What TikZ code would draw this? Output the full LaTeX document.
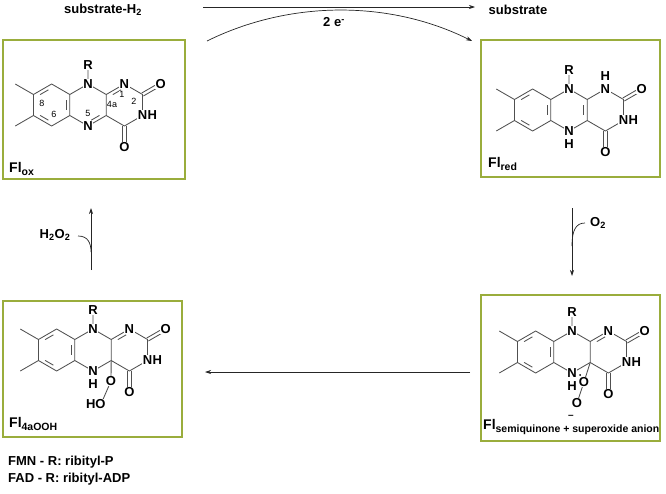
\documentclass[tikz,border=0pt]{standalone}
\usepackage{fontspec}
\setmainfont{Liberation Sans}
\usetikzlibrary{calc,arrows.meta}
\definecolor{boxc}{HTML}{9AAD3C}
\definecolor{bondc}{HTML}{505050}
\newcommand{\sbs}[1]{\raisebox{-0.25em}{\fontsize{10.5}{10.5}\selectfont #1}}
\tikzset{
  box/.style={draw=boxc,line width=1.1pt},
  bd/.style={draw=bondc,line width=0.85pt},
  atm/.style={fill=white,inner sep=0.6pt,font=\bfseries\fontsize{13}{13}\selectfont,text=black},
  num/.style={inner sep=0.3pt,font=\fontsize{9}{9}\selectfont},
  lab/.style={inner sep=0pt,font=\bfseries\fontsize{13}{13}\selectfont},
  flab/.style={inner sep=0pt,font=\bfseries\fontsize{14}{14}\selectfont},
  arr/.style={draw=black!85,line width=0.7pt,-{Stealth[length=6pt,width=4pt]}},
}
\newcommand{\dbin}[3]{\draw[bd] ($($(#1)!.22!(#2)$)!3.6pt!(#3)$) -- ($($(#1)!.78!(#2)$)!3.6pt!(#3)$);}
\newcommand{\flskel}[1]{%
  \coordinate (#1N10) at (0,-21); \coordinate (#1C9a) at (-18.19,-10.5);
  \coordinate (#1C5a) at (-18.19,10.5); \coordinate (#1N5) at (0,21);
  \coordinate (#1C4a) at (18.19,10.5); \coordinate (#1C10a) at (18.19,-10.5);
  \coordinate (#1C9) at (-36.37,-21); \coordinate (#1C8) at (-54.56,-10.5);
  \coordinate (#1C7) at (-54.56,10.5); \coordinate (#1C6) at (-36.37,21);
  \coordinate (#1N1) at (36.37,-21); \coordinate (#1C2) at (54.56,-10.5);
  \coordinate (#1N3) at (54.56,10.5); \coordinate (#1C4) at (36.37,21);
  \coordinate (#1O2) at (72.75,-21); \coordinate (#1O4) at (36.37,42);
  \coordinate (#1Me8) at (-72.75,-21); \coordinate (#1Me7) at (-72.75,21);
  \coordinate (#1R) at (0,-40);
  \coordinate (#1cb) at (-36.37,0); \coordinate (#1cc) at (0,0); \coordinate (#1cp) at (36.37,0);
  \draw[bd] (#1C9a)--(#1C9)--(#1C8)--(#1C7)--(#1C6)--(#1C5a)--cycle;
  \draw[bd] (#1C9a)--(#1N10)--(#1C10a)--(#1C4a)--(#1N5)--(#1C5a);
  \draw[bd] (#1C10a)--(#1N1)--(#1C2)--(#1N3)--(#1C4)--(#1C4a);
  \draw[bd] (#1C8)--(#1Me8) (#1C7)--(#1Me7) (#1N10)--(#1R);
  \dbin{#1C9}{#1C8}{#1cb}\dbin{#1C7}{#1C6}{#1cb}\dbin{#1C9a}{#1C5a}{#1cb}
  \draw[bd] ($(#1C2)!1.7pt!90:(#1O2)$)--($(#1O2)!1.7pt!-90:(#1C2)$)
            ($(#1C2)!1.7pt!-90:(#1O2)$)--($(#1O2)!1.7pt!90:(#1C2)$);
  \draw[bd] ($(#1C4)!1.7pt!90:(#1O4)$)--($(#1O4)!1.7pt!-90:(#1C4)$)
            ($(#1C4)!1.7pt!-90:(#1O4)$)--($(#1O4)!1.7pt!90:(#1C4)$);
  \node[atm] at (#1N10) {N}; \node[atm] at (#1R) {R};
  \node[atm] at (#1O2) {O}; \node[atm] at (#1O4) {O};
  \node[atm] at (#1N3) {N}; \node[atm,anchor=west,inner sep=0pt] at ($(#1N3)+(4.8,0)$) {H};
}
\begin{document}
\begin{tikzpicture}[x=1pt,y=-1pt]
\useasboundingbox (0,0) rectangle (666,493);
% boxes
\draw[box] (3,40) rectangle (185,179);
\draw[box] (481,40) rectangle (660,177);
\draw[box] (3,301) rectangle (182,437);
\draw[box] (481,295) rectangle (660,441);
% Fl_ox
\begin{scope}[shift={(88,105)}]
  \flskel{a}
  \dbin{aC10a}{aN1}{acp}\dbin{aC4a}{aN5}{acc}
  \node[atm] at (aN5) {N}; \node[atm] at (aN1) {N};
  \node[num] at (-46,-2) {8}; \node[num] at (-34,9) {6};
  \node[num] at (0,8) {5}; \node[num] at (24,-1) {4a};
  \node[num,fill=white] at (34,-11) {1}; \node[num] at (46,-4) {2};
\end{scope}
\node[flab,anchor=west] (lox) at (9,169) {Fl\sbs{ox}};
% Fl_red
\begin{scope}[shift={(569,110)}]
  \flskel{b}
  \dbin{bC10a}{bC4a}{bcc}
  \node[atm] at (bN5) {N}; \node[atm] at (bN1) {N};
  \node[atm] at (0,34) {H}; \node[atm] at (36.37,-34) {H};
\end{scope}
\node[flab,anchor=west] (lred) at (488,164) {Fl\sbs{red}};
% Fl_4aOOH
\begin{scope}[shift={(93,350)}]
  \flskel{c}
  \dbin{cC10a}{cN1}{ccp}
  \coordinate (cOa) at (18,31); \coordinate (cOb) at (8,54);
  \draw[bd] (cC4a)--(cOa)--(cOb);
  \node[atm] at (cN5) {N}; \node[atm] at (cN1) {N};
  \node[atm] at (0,34) {H};
  \node[atm] at (cOa) {O}; \node[atm,anchor=east,inner sep=0pt] at ($(cOb)+(4.8,0)$) {HO};
\end{scope}
\node[flab,anchor=west] (looh) at (9,424) {Fl\sbs{4aOOH}};
% Fl_semiquinone
\begin{scope}[shift={(572,352)}]
  \flskel{d}
  \dbin{dC10a}{dN1}{dcp}
  \coordinate (dOa) at (12,30); \coordinate (dOb) at (5,51);
  \draw[bd] (dC4a)--(dOa)--(dOb);
  \node[atm] at (dN5) {N}; \node[atm] at (dN1) {N};
  \node[atm] at (0,34) {H};
  \node[atm] at (dOa) {O}; \node[atm] at (dOb) {O};
  \fill (dOa)++(-4,-7) circle (1pt);
  \node[atm,fill=none] at (-1,65) {\fontsize{10}{10}\selectfont --};
\end{scope}
\node[flab,anchor=west] (lsq) at (483,427) {Fl\sbs{semiquinone + superoxide anion}};
% top reaction
\node[lab] (s1) at (103,10) {substrate-H\textsubscript{2}};
\node[lab] (s2) at (518,10) {substrate};
\coordinate (t1) at (203,7); \coordinate (t2) at (475,7);
\draw[arr] (t1) -- (t2);
\coordinate (a1) at (207,41); \coordinate (a2) at (472,41);
\draw[arr] (a1) .. controls (290,0) and (390,0) .. (a2);
\node[lab] (e2) at (334,22) {2 e\textsuperscript{-}};
% right O2
\coordinate (r1) at (572,208); \coordinate (r2) at (572,276);
\draw[arr] (r1) -- (r2);
\coordinate (rc) at (585,223);
\draw[draw=black!85,line width=0.7pt] (572,246) .. controls (572,230) and (576,223) .. (rc);
\node[lab,anchor=west] (o2) at (590,223) {O\textsubscript{2}};
% left H2O2
\coordinate (l1) at (91,270); \coordinate (l2) at (91,208);
\draw[arr] (l1) -- (l2);
\coordinate (lc) at (78,236);
\draw[draw=black!85,line width=0.7pt] (91,252) .. controls (91,243) and (88,236) .. (lc);
\node[lab] (h2o2) at (55,235) {H\textsubscript{2}O\textsubscript{2}};
% bottom
\coordinate (b1) at (470,372); \coordinate (b2) at (205,372);
\draw[arr] (b1) -- (b2);
\node[lab,anchor=west] (fmn) at (8,462) {FMN - R: ribityl-P};
\node[lab,anchor=west] (fad) at (8,479) {FAD - R: ribityl-ADP};
\end{tikzpicture}
\end{document}
